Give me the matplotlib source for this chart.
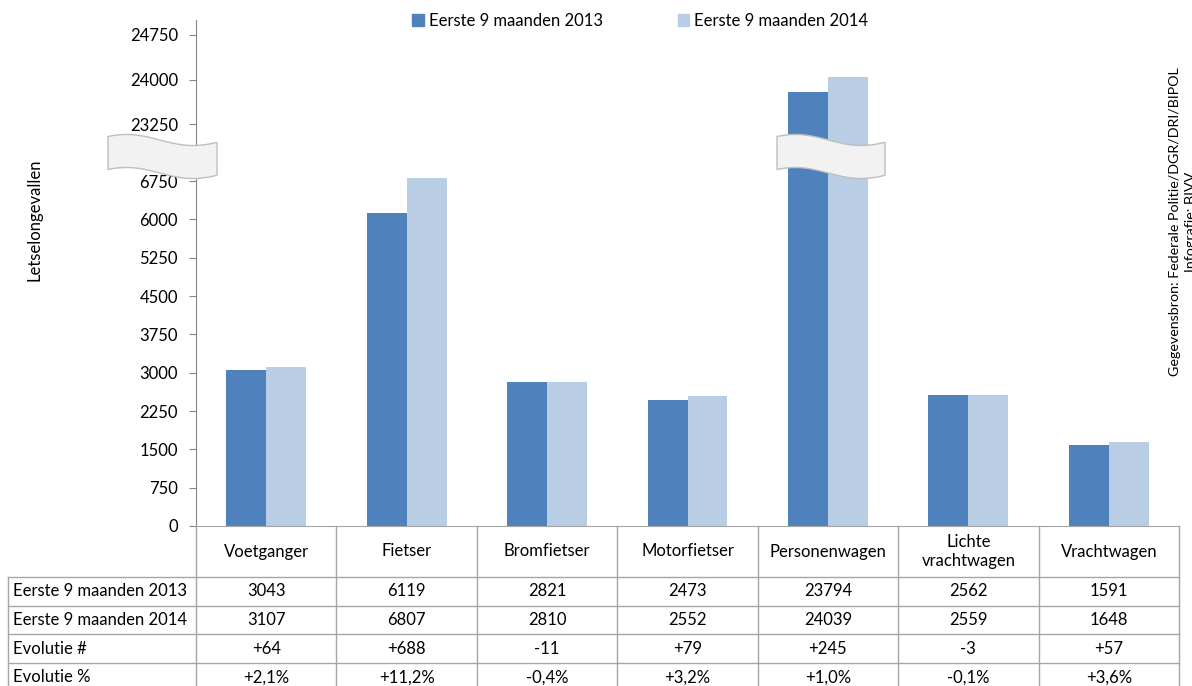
import numpy as np
import matplotlib
matplotlib.use('Agg')
import matplotlib.pyplot as plt
from matplotlib.patches import Polygon, Patch

## Data
categories = ['Voetganger', 'Fietser', 'Bromfietser', 'Motorfietser',
              'Personenwagen', 'Lichte\nvrachtwagen', 'Vrachtwagen']
v2013 = [3043, 6119, 2821, 2473, 23794, 2562, 1591]
v2014 = [3107, 6807, 2810, 2552, 24039, 2559, 1648]
evol_n = ['+64', '+688', '-11', '+79', '+245', '-3', '+57']
evol_p = ['+2,1%', '+11,2%', '-0,4%', '+3,2%', '+1,0%', '-0,1%', '+3,6%']
row_labels = ['Eerste 9 maanden 2013', 'Eerste 9 maanden 2014', 'Evolutie #', 'Evolutie %']
low_ticks = np.arange(0, 6751, 750)
high_ticks = [23250, 24000, 24750]

c13 = '#4F81BD'
c14 = '#B9CDE5'
grid_c = '#A6A6A6'
fs = 12

plt.rcParams['font.family'] = ['Lato', 'DejaVu Sans']

W, H = 1192, 686
fig = plt.figure(figsize=(W/100, H/100), dpi=100)

def px(x0, y0, x1, y1):
    # pixel box -> figure fraction rect
    return [x0/W, 1-y1/H, (x1-x0)/W, (y1-y0)/H]

ax_lo = fig.add_axes(px(196, 155, 1179, 526))
ax_hi = fig.add_axes(px(196, 20, 1179, 155))

x = np.arange(len(categories))
bw = 0.284
for ax in (ax_lo, ax_hi):
    ax.bar(x - bw/2, v2013, bw, color=c13, zorder=2)
    ax.bar(x + bw/2, v2014, bw, color=c14, zorder=2)
    ax.set_xlim(-0.5, len(categories) - 0.5)
    ax.set_xticks([])
    for s in ['top', 'right']:
        ax.spines[s].set_visible(False)
    ax.spines['left'].set_color('#868686')
    ax.tick_params(axis='y', direction='out', length=5, color='#868686',
                   labelsize=fs, pad=8)

ax_lo.set_ylim(0, 7259)
ax_lo.set_yticks(low_ticks)
ax_lo.spines['bottom'].set_color(grid_c)
ax_hi.set_ylim(22733, 25000)
ax_hi.set_yticks(high_ticks)
ax_hi.spines['bottom'].set_visible(False)

## overlay in pixel coordinates for table and axis breaks
ov = fig.add_axes([0, 0, 1, 1], zorder=10)
ov.set_xlim(0, W)
ov.set_ylim(H, 0)
ov.axis('off')

def brk(x0, x1):
    t = np.linspace(0, 1, 60)
    xs = x0 + t*(x1 - x0)
    top = 140 - 5.5*np.cos(2*np.pi*(t - 0.17)/1.22)
    bot = top + 33
    pts = np.vstack([np.column_stack([xs, top]), np.column_stack([xs[::-1], bot[::-1]])])
    ov.add_patch(Polygon(pts, closed=True, facecolor='#F2F2F2', edgecolor='#BFBFBF', lw=1))

brk(108, 217)
brk(777, 885)

## table
col_edges = [196 + i*(1179-196)/7 for i in range(8)]
row_edges = [577, 606, 634, 663, 692]
for xe in col_edges:
    ov.plot([xe, xe], [526, 692], color=grid_c, lw=1)
ov.plot([8, 8], [577, 692], color=grid_c, lw=1)
for ye in row_edges:
    ov.plot([8, 1179], [ye, ye], color=grid_c, lw=1)

for i, cat in enumerate(categories):
    cx = (col_edges[i] + col_edges[i+1]) / 2
    ov.text(cx, 551.5, cat, ha='center', va='center', fontsize=fs, linespacing=1.3)
    cells = [str(v2013[i]), str(v2014[i]), evol_n[i], evol_p[i]]
    for j, c in enumerate(cells):
        cy = (row_edges[j] + row_edges[j+1]) / 2
        ov.text(cx, cy, c, ha='center', va='center', fontsize=fs)
for j, lab in enumerate(row_labels):
    cy = (row_edges[j] + row_edges[j+1]) / 2
    ov.text(13, cy, lab, ha='left', va='center', fontsize=fs)

## labels
fig.text(35/W, 1-220/H, 'Letselongevallen', rotation=90, ha='center', va='center', fontsize=fs)
fig.text(1183/W, 1-222/H, 'Gegevensbron: Federale Politie/DGR/DRI/BIPOL\nInfografie: BIVV',
         rotation=90, ha='center', va='center', fontsize=10.3, multialignment='center',
         linespacing=1.35)

handles = [Patch(color=c13), Patch(color=c14)]
fig.legend(handles, ['Eerste 9 maanden 2013', 'Eerste 9 maanden 2014'],
           loc='center', bbox_to_anchor=(640/W, 1-21/H), ncol=2, frameon=False,
           fontsize=fs, handlelength=0.7, handleheight=0.7, handletextpad=0.3,
           columnspacing=4.5)

fig.savefig('out.png', dpi=100)
